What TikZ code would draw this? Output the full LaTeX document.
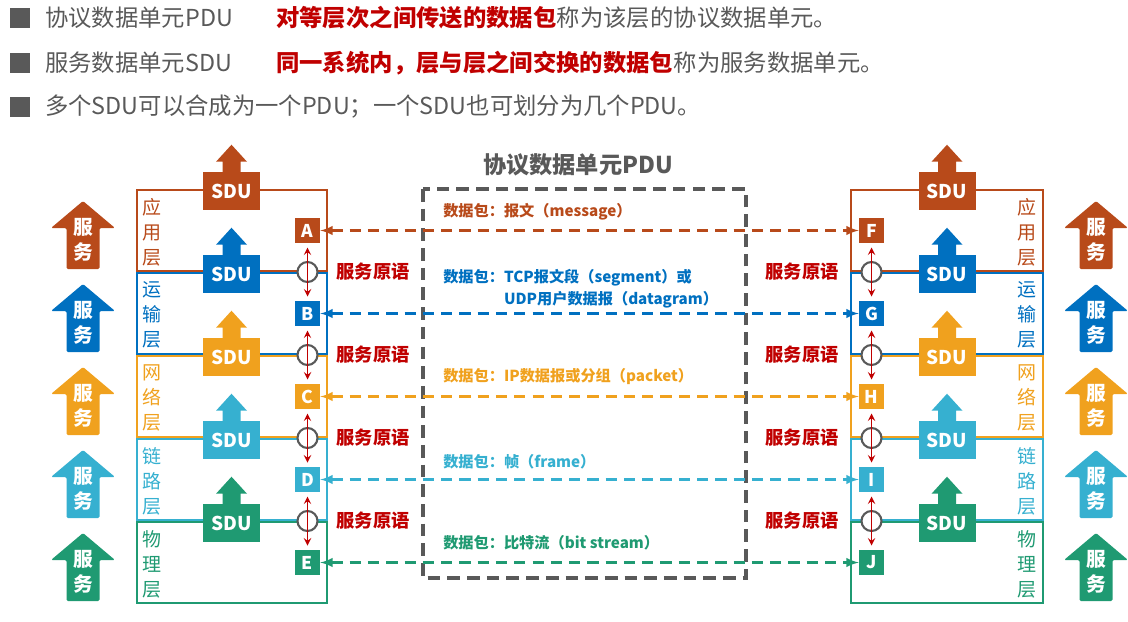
\documentclass[tikz,border=0pt]{standalone}
\usepackage{fontspec}
\setmainfont{Noto Sans CJK SC}
\usepackage{xcolor}
\usepackage{tikz}
\usetikzlibrary{arrows, positioning, calc}

\definecolor{appc}{RGB}{184,74,26}
\definecolor{transc}{RGB}{0,112,192}
\definecolor{netc}{RGB}{240,161,30}
\definecolor{linkc}{RGB}{54,176,208}
\definecolor{phyc}{RGB}{31,154,114}
\definecolor{redc}{RGB}{192,0,0}
\definecolor{grayc}{RGB}{89,89,89}

\begin{document}
\begin{tikzpicture}[
    x=0.025cm, y=-0.025cm,
    bullet/.style={rectangle, fill=grayc, minimum size=0.5cm, inner sep=0pt},
    head/.style={inner sep=0pt, anchor=west, text=grayc, font=\fontsize{16.6}{20}\selectfont},
    redhead/.style={head, text=redc, font=\fontsize{16.6}{20}\selectfont\bfseries},
    layerbox/.style={draw, line width=1.4pt},
    sdubox/.style={rectangle, minimum width=1.425cm, minimum height=0.95cm, inner sep=0pt, text=white, font=\fontsize{13.5}{16}\selectfont\bfseries},
    srv/.style={align=center, inner sep=0pt, text=white, font=\fontsize{14}{17.8}\selectfont\bfseries},
    lname/.style={align=center, inner sep=0pt, font=\fontsize{13.5}{17.8}\selectfont},
    port/.style={rectangle, minimum size=0.625cm, inner sep=0pt, text=white, font=\fontsize{12.5}{14}\selectfont\bfseries},
    ring/.style={circle, draw=grayc, fill=white, line width=1.5pt, minimum size=0.5cm, inner sep=0pt},
    prim/.style={redc, line width=1.3pt, <->, >=stealth, shorten <=3pt, shorten >=3pt},
    primlabel/.style={text=redc, inner sep=0pt, font=\fontsize{13}{16}\selectfont\bfseries},
    pdu/.style={line width=2pt, <->, >=latex, dash pattern=on 8pt off 5pt},
    pdulabel/.style={anchor=west, inner sep=0pt, align=left, font=\fontsize{10.8}{15.6}\selectfont\bfseries},
    frame/.style={draw=grayc, line width=2.4pt, dash pattern=on 9pt off 5pt},
    title/.style={text=grayc, inner sep=0pt, font=\fontsize{16.5}{20}\selectfont\bfseries}
]
\useasboundingbox (0,0) rectangle (1128,621);

% Header
\node (bul1) [bullet] at (20,18) {};
\node (pduname) [head] at (45,18) {协议数据单元PDU};
\node (pdudef) [redhead] at (276,18) {对等层次之间传送的数据包};
\node (pdurest) [head, right=0pt of pdudef] {称为该层的协议数据单元。};

\node (bul2) [bullet] at (20,63) {};
\node (sduname) [head] at (45,63) {服务数据单元SDU};
\node (sdudef) [redhead] at (276,63) {同一系统内，层与层之间交换的数据包};
\node (sdurest) [head, right=0pt of sdudef] {称为服务数据单元。};

\node (bul3) [bullet] at (20,107) {};
\node (note) [head] at (45,107) {多个SDU可以合成为一个PDU；一个SDU也可划分为几个PDU。};

% Layers, left and right
\foreach \i/\lc/\nm/\pl/\pr in {0/appc/{应\\用\\层}/A/F, 1/transc/{运\\输\\层}/B/G,
    2/netc/{网\\络\\层}/C/H, 3/linkc/{链\\路\\层}/D/I, 4/phyc/{物\\理\\层}/E/J} {
  \pgfmathsetmacro{\T}{190+83*\i}
  \draw [layerbox, \lc] (137,\T) rectangle (327,{\T+81});
  \draw [layerbox, \lc] (851,\T) rectangle (1043,{\T+81});
  % service arrows
  \fill [\lc, rounded corners=1pt] (83,{\T+11}) -- ++(32,27) -- ++(-15.5,0) -- ++(0,41) -- ++(-33,0) -- ++(0,-41) -- ++(-15.5,0) -- cycle;
  \node (srvL\i) [srv] at (83,{\T+50}) {服\\务};
  \fill [\lc, rounded corners=1pt] (1096,{\T+11}) -- ++(32,27) -- ++(-15.5,0) -- ++(0,41) -- ++(-33,0) -- ++(0,-41) -- ++(-15.5,0) -- cycle;
  \node (srvR\i) [srv] at (1096,{\T+50}) {服\\务};
  % layer names
  \node (nmL\i) [lname, text=\lc] at (152,{\T+42}) {\nm};
  \node (nmR\i) [lname, text=\lc] at (1027,{\T+42}) {\nm};
  % SDU
  \node (sduL\i) [sdubox, fill=\lc] at (231.5,{\T+1}) {SDU};
  \fill [\lc] (sduL\i.north) ++(-9,0.5) -- ++(0,-10.5) -- ++(-6.5,0) -- ++(15.5,-17) -- ++(15.5,17) -- ++(-6.5,0) -- ++(0,10.5) -- cycle;
  \node (sduR\i) [sdubox, fill=\lc] at (947,{\T+1}) {SDU};
  \fill [\lc] (sduR\i.north) ++(-9,0.5) -- ++(0,-10.5) -- ++(-6.5,0) -- ++(15.5,-17) -- ++(15.5,17) -- ++(-6.5,0) -- ++(0,10.5) -- cycle;
  % access points
  \node (\pl) [port, fill=\lc] at (307.5,{\T+40.5}) {\pl};
  \node (\pr) [port, fill=\lc] at (871.5,{\T+40.5}) {\pr};
}

% Service primitives
\foreach \i/\a/\b/\c/\d in {0/A/B/F/G, 1/B/C/G/H, 2/C/D/H/I, 3/D/E/I/J} {
  \pgfmathsetmacro{\T}{190+83*\i}
  \node (ringL\i) [ring] at (307.5,{\T+82}) {};
  \node (ringR\i) [ring] at (871.5,{\T+82}) {};
  \draw [prim] (\a) -- (\b);
  \draw [prim] (\c) -- (\d);
  \node (primL\i) [primlabel] at (373,{\T+82}) {服务原语};
  \node (primR\i) [primlabel] at (802,{\T+82}) {服务原语};
}

% PDU frame
\draw [frame] (423,189) rectangle (746,578);
\node (pdutitle) [title] at (578,165) {协议数据单元PDU};

\node (msg) [pdulabel, text=appc] at (443,212) {数据包：报文（message）};
\node (seg) [pdulabel, text=transc] at (443,289) {数据包：TCP报文段（segment）或\\\hspace*{4em}UDP用户数据报（datagram）};
\node (pkt) [pdulabel, text=netc] at (443,377) {数据包：IP数据报或分组（packet）};
\node (frm) [pdulabel, text=linkc] at (443,462) {数据包：帧（frame）};
\node (bits) [pdulabel, text=phyc] at (443,543) {数据包：比特流（bit stream）};

% Arrows
\draw [pdu, appc] (A) -- (F);
\draw [pdu, transc] (B) -- (G);
\draw [pdu, netc] (C) -- (H);
\draw [pdu, linkc] (D) -- (I);
\draw [pdu, phyc] (E) -- (J);

\end{tikzpicture}
\end{document}
